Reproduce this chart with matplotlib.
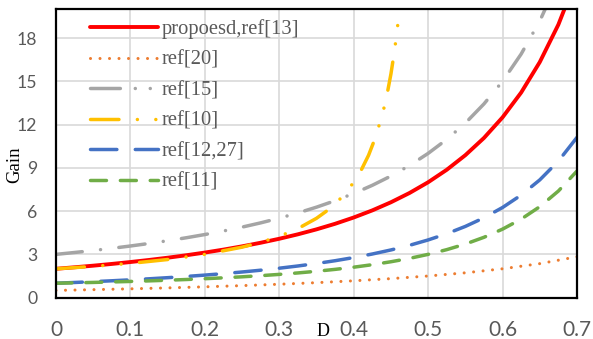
import matplotlib
matplotlib.use("Agg")
import matplotlib.pyplot as plt
from matplotlib.lines import Line2D

# Duty cycle samples and gain values for each converter
d_main = [0.0, 0.025, 0.05, 0.075, 0.1, 0.125, 0.15, 0.175, 0.2, 0.225, 0.25,
          0.275, 0.3, 0.325, 0.35, 0.375, 0.4, 0.425, 0.45, 0.475, 0.5,
          0.525, 0.55, 0.575, 0.6, 0.625, 0.65, 0.675, 0.7]
gain_proposed = [2.0, 2.104, 2.216, 2.337, 2.469, 2.612, 2.768, 2.938, 3.125,
                 3.33, 3.556, 3.805, 4.082, 4.39, 4.734, 5.12, 5.556, 6.049,
                 6.612, 7.256, 8.0, 8.864, 9.877, 11.07, 12.5, 14.22, 16.33,
                 18.93, 22.22]
gain_ref15 = [3.0, 3.13, 3.269, 3.419, 3.58, 3.755, 3.945, 4.151, 4.375, 4.62,
              4.889, 5.184, 5.51, 5.871, 6.272, 6.72, 7.222, 7.788, 8.43,
              9.161, 10.0, 10.97, 12.1, 13.43, 15.0, 16.89, 19.18, 22.01, 25.56]
gain_ref12 = [1.0, 1.052, 1.108, 1.169, 1.235, 1.306, 1.384, 1.469, 1.563,
              1.665, 1.778, 1.902, 2.041, 2.195, 2.367, 2.56, 2.778, 3.025,
              3.306, 3.628, 4.0, 4.432, 4.938, 5.536, 6.25, 7.111, 8.163,
              9.467, 11.11]
gain_ref11 = [1.0, 1.026, 1.055, 1.088, 1.123, 1.163, 1.208, 1.257, 1.313,
              1.375, 1.444, 1.523, 1.612, 1.713, 1.828, 1.96, 2.111, 2.285,
              2.488, 2.723, 3.0, 3.327, 3.716, 4.183, 4.75, 5.444, 6.306,
              7.391, 8.778]

d_ref20 = [0.0, 0.05, 0.1, 0.15, 0.2, 0.25, 0.3, 0.35, 0.4, 0.45, 0.5, 0.55,
           0.6, 0.65, 0.7]
gain_ref20 = [0.5, 0.553, 0.611, 0.676, 0.75, 0.833, 0.929, 1.038, 1.167,
              1.318, 1.5, 1.722, 2.0, 2.357, 2.833]

d_ref10 = [0.0, 0.05, 0.1, 0.15, 0.2, 0.25, 0.275, 0.3, 0.325, 0.35, 0.365,
           0.38, 0.39, 0.4, 0.41, 0.42, 0.43, 0.44, 0.445, 0.45, 0.455, 0.46,
           0.465]
gain_ref10 = [2.0, 2.167, 2.375, 2.643, 3.0, 3.5, 3.833, 4.25, 4.786, 5.5,
              6.056, 6.75, 7.318, 8.0, 8.833, 9.875, 11.21, 13.0, 14.14, 15.5,
              17.17, 19.25, 21.93]

labels = ["propoesd,ref[13]", "ref[20]", "ref[15]", "ref[10]", "ref[12,27]", "ref[11]"]
x_ticks = [0, 0.1, 0.2, 0.3, 0.4, 0.5, 0.6, 0.7]
x_ticklabels = ["0", "0.1", "0.2", "0.3", "0.4", "0.5", "0.6", "0.7"]
y_ticks = [0, 3, 6, 9, 12, 15, 18]

c_red = "#FF0000"
c_orange = "#ED7D31"
c_gray = "#A5A5A5"
c_yellow = "#FFC000"
c_blue = "#4472C4"
c_green = "#70AD47"
text_gray = "#595959"

LW = 2.5
st_red = dict(color=c_red, lw=2.8, linestyle="-", solid_capstyle="round")
st_orange = dict(color=c_orange, lw=2.2, linestyle=(0, (0.01, 3.1)),
                 dash_capstyle="round")
st_gray = dict(color=c_gray, lw=LW, linestyle=(0, (7.6, 5.3, 0.01, 5.3)),
               dash_capstyle="round")
st_gray_leg = dict(color=c_gray, lw=LW,
                   linestyle=(0, (8.6, 4.3, 0.01, 4.3, 0.01, 4.3)),
                   dash_capstyle="round")
st_yellow = dict(color=c_yellow, lw=LW,
                 linestyle=(0, (8.2, 5.3, 0.01, 5.3, 0.01, 5.3)),
                 dash_capstyle="round")
st_blue = dict(color=c_blue, lw=LW, linestyle=(0, (7.6, 5.3)),
               dash_capstyle="round")
st_green = dict(color=c_green, lw=LW, linestyle=(0, (4.6, 4.0)),
                dash_capstyle="round")

fig = plt.figure(figsize=(5.93, 3.39), dpi=100)
ax = fig.add_axes([0.0944, 0.122, 0.8786, 0.851])

ax.plot(d_main, gain_proposed, zorder=3, **st_red)
ax.plot(d_ref20, gain_ref20, zorder=4, **st_orange)
ax.plot(d_main, gain_ref15, zorder=5, **st_gray)
ax.plot(d_ref10, gain_ref10, zorder=6, **st_yellow)
ax.plot(d_main, gain_ref12, zorder=7, **st_blue)
ax.plot(d_main, gain_ref11, zorder=8, **st_green)

ax.set_xlim(0, 0.7)
ax.set_ylim(0, 20)
ax.set_xticks(x_ticks)
ax.set_xticklabels(x_ticklabels)
ax.set_yticks(y_ticks)
ax.grid(True, color="#D9D9D9", lw=1.2, zorder=0)
ax.set_axisbelow(True)
ax.tick_params(length=0, colors=text_gray)
ax.tick_params(axis="x", labelsize=15, pad=16)
ax.tick_params(axis="y", labelsize=12.7, pad=13.5)
for lab in ax.get_xticklabels() + ax.get_yticklabels():
    lab.set_family("Lato")
for sp in ax.spines.values():
    sp.set_color("black")
    sp.set_linewidth(1.6)
    sp.set_zorder(10)

fig.text(323 / 593, 1 - 331 / 339, "D", family="Liberation Serif",
         fontsize=13, color="black", ha="center", va="center")
fig.text(15 / 593, 1 - 165 / 339, "Gain", family="Liberation Serif",
         fontsize=13.5, color="black", ha="center", va="center", rotation=90)

handles = [Line2D([], [], **st_red), Line2D([], [], **st_orange),
           Line2D([], [], **st_gray_leg), Line2D([], [], **st_yellow),
           Line2D([], [], **st_blue), Line2D([], [], **st_green)]
leg = ax.legend(handles, labels, loc="upper left",
                bbox_to_anchor=(0.045, 1.0), frameon=False, borderpad=0,
                handlelength=3.3, handletextpad=0.2, labelspacing=0.54,
                prop={"family": "Liberation Serif", "size": 14.8})
for t in leg.get_texts():
    t.set_color(text_gray)
leg.set_zorder(20)

fig.savefig("out.png", dpi=100)
